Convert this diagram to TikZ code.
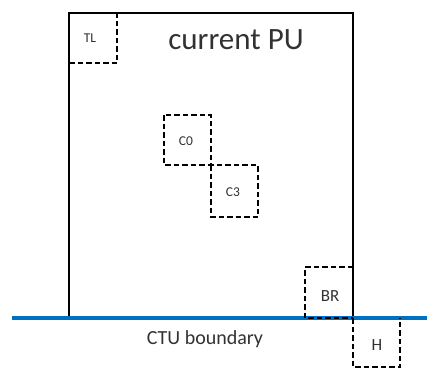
\documentclass[tikz,border=0pt]{standalone}
\usepackage{fontspec}
\setmainfont{Carlito}
\definecolor{ctublue}{RGB}{0,112,192}
\definecolor{txtgray}{RGB}{50,50,50}
\tikzset{
  pu/.style={draw=black, line width=2.4pt},
  cand/.style={draw=black, line width=2.2pt, dash pattern=on 5.5pt off 3pt},
  lbl/.style={text=txtgray, font=\fontsize{13.5}{15}\selectfont, inner sep=0pt},
  lblbig/.style={text=txtgray, font=\fontsize{17}{19}\selectfont, inner sep=0pt},
}
\begin{document}
\begin{tikzpicture}[x=1pt,y=-1pt]
\useasboundingbox (0,0) rectangle (427,368);
% current PU
\draw[pu] (69,13) rectangle (353,318);
% CTU boundary
\coordinate (bl) at (12,318);
\coordinate (br) at (427,318);
\draw[ctublue, line width=3.2pt] (bl) -- (br);
% candidate blocks
\draw[cand] (69,63) -- (117,63) -- (117,13);
\draw[cand] (164,115) rectangle (211,165);
\draw[cand] (211,165) rectangle (258,217);
\draw[cand] (353,267) -- (305,267) -- (305,318) -- (353,318);
\draw[cand] (353,318) -- (353,367) -- (400,367) -- (400,318);
% labels
\node[lbl] (tl) at (90,38) {TL};
\node[lbl] (c0) at (186,141) {C0};
\node[lbl] (c3) at (233,192) {C3};
\node[lblbig] (brl) at (330,296) {BR};
\node[lblbig] (h) at (377,345) {H};
\node[text=txtgray, inner sep=0pt, font=\fontsize{31}{34}\selectfont] (cur) at (236,40) {current PU};
\node[text=txtgray, inner sep=0pt, font=\fontsize{20}{22}\selectfont] (ctu) at (205,339) {CTU boundary};
\end{tikzpicture}
\end{document}
